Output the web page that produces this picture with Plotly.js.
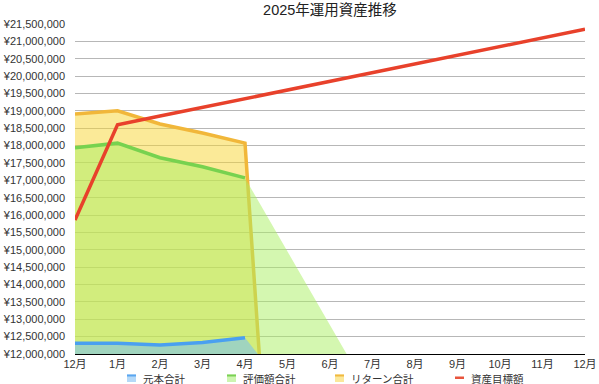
<!DOCTYPE html>
<html>
<head>
<meta charset="utf-8">
<script src="https://cdn.plot.ly/plotly-3.0.1.min.js"></script>
<style>html,body{margin:0;padding:0;background:#fff}#chart{width:599px;height:384px}</style>
</head>
<body>
<div id="chart"></div>
<script>
// ---- data ----
const months = ['12月','1月','2月','3月','4月','5月','6月','7月','8月','9月','10月','11月','12月'];
const principal   = [12310000, 12310000, 12260000, 12330000, 12470000];            // 元本合計
const valuation   = [17940000, 18070000, 17650000, 17390000, 17070000];            // 評価額合計
const returnTotal = [18910000, 19000000, 18620000, 18360000, 18070000, 0];         // リターン合計
const target      = [15860000, 18600000, 18850000, 19100000, 19350000, 19600000, 19850000,
                     20100000, 20350000, 20600000, 20850000, 21100000, 21350000];   // 資産目標額
// fill boundaries after the last month (as seen in the picture)
const valuationFillTail = [14950000, 12830000, 10710000];
const principalFillTail = [10900000];
const seriesNames = ['元本合計', '評価額合計', 'リターン合計', '資産目標額'];

const idx = a => a.map((_, i) => i);
const FONT = 'Liberation Sans, Noto Sans CJK JP, sans-serif';

const valFill = valuation.concat(valuationFillTail);
const prinFill = principal.concat(principalFillTail);

const traces = [
  // リターン合計 fill + line
  {x: idx(returnTotal), y: returnTotal, type: 'scatter', mode: 'lines', fill: 'tozeroy',
   fillcolor: 'rgba(247,213,49,0.5)', line: {color: '#f1b73a', width: 3.5}, name: seriesNames[2],
   showlegend: false, hoverinfo: 'skip'},
  // 評価額合計 fill
  {x: idx(valFill), y: valFill, type: 'scatter', mode: 'lines', fill: 'tozeroy',
   fillcolor: 'rgba(169,239,97,0.5)', line: {width: 0, color: 'rgba(0,0,0,0)'},
   showlegend: false, hoverinfo: 'skip'},
  // 評価額合計 line
  {x: idx(valuation), y: valuation, type: 'scatter', mode: 'lines', name: seriesNames[1],
   line: {color: '#77d24f', width: 3.5}, showlegend: false},
  // 元本合計 fill
  {x: idx(prinFill), y: prinFill, type: 'scatter', mode: 'lines', fill: 'tozeroy',
   fillcolor: 'rgba(110,188,255,0.5)', line: {width: 0, color: 'rgba(0,0,0,0)'},
   showlegend: false, hoverinfo: 'skip'},
  // 元本合計 line
  {x: idx(principal), y: principal, type: 'scatter', mode: 'lines', name: seriesNames[0],
   line: {color: '#4aa0f0', width: 3.5}, showlegend: false},
  // 資産目標額
  {x: idx(target), y: target, type: 'scatter', mode: 'lines', name: seriesNames[3],
   line: {color: '#e8412b', width: 3.5}, showlegend: false}
];

// custom legend (pixel -> paper)
const L = 75, T = 24, W = 510, H = 330;
const px = v => (v - L) / W;
const py = v => (T + H - v) / H;
const legendItems = [
  {x: 127, text: seriesNames[0], pale: '#b5d9f8', dark: '#5aa6f0', type: 'box'},
  {x: 227, text: seriesNames[1], pale: '#cdf5b0', dark: '#7ad154', type: 'box'},
  {x: 335, text: seriesNames[2], pale: '#fbe89a', dark: '#f1b940', type: 'box'},
  {x: 455, text: seriesNames[3], pale: '#e8553d', dark: '#e8553d', type: 'dash'}
];
const shapes = [], annotations = [];
legendItems.forEach(it => {
  if (it.type === 'box') {
    shapes.push({type: 'rect', xref: 'paper', yref: 'paper', x0: px(it.x), x1: px(it.x + 9),
      y0: py(382), y1: py(374.5), fillcolor: it.pale, line: {width: 0}});
    shapes.push({type: 'rect', xref: 'paper', yref: 'paper', x0: px(it.x), x1: px(it.x + 9),
      y0: py(376.5), y1: py(374.5), fillcolor: it.dark, line: {width: 0}});
  } else {
    shapes.push({type: 'rect', xref: 'paper', yref: 'paper', x0: px(it.x), x1: px(it.x + 9),
      y0: py(379), y1: py(376.5), fillcolor: it.dark, line: {width: 0}});
  }
  annotations.push({xref: 'paper', yref: 'paper', x: px(it.x + 14), y: py(378.5),
    xanchor: 'left', yanchor: 'middle', showarrow: false, text: it.text,
    font: {family: FONT, size: 10.5, color: '#333'}});
});

const layout = {
  width: 599, height: 384,
  margin: {l: L, r: 599 - L - W, t: T, b: 384 - T - H},
  paper_bgcolor: '#fff', plot_bgcolor: '#fff',
  font: {family: FONT, size: 11, color: '#333'},
  title: {text: '2025年運用資産推移', x: 0.5, xref: 'paper', xanchor: 'center',
          y: 1 - 10 / 384, yref: 'container', yanchor: 'middle',
          font: {family: FONT, size: 14.5, color: '#222'}},
  showlegend: false,
  xaxis: {type: 'linear', range: [0, 12], tickvals: idx(months), ticktext: months,
          showgrid: false, zeroline: false, showline: true, linecolor: '#000', linewidth: 1,
          layer: 'below traces', ticks: '', tickfont: {size: 11, color: '#333'}, fixedrange: true},
  yaxis: {range: [12000000, 21500000], dtick: 500000, tick0: 12000000,
          tickprefix: '¥', tickformat: ',d', showgrid: true, gridcolor: '#b7b7b7', gridwidth: 1,
          zeroline: false, showline: false, ticks: '', ticklabelstandoff: 9,
          layer: 'below traces', tickfont: {size: 11, color: '#333'}, fixedrange: true},
  shapes: shapes,
  annotations: annotations
};

Plotly.newPlot('chart', traces, layout, {displayModeBar: false, staticPlot: true});
</script>
</body>
</html>
